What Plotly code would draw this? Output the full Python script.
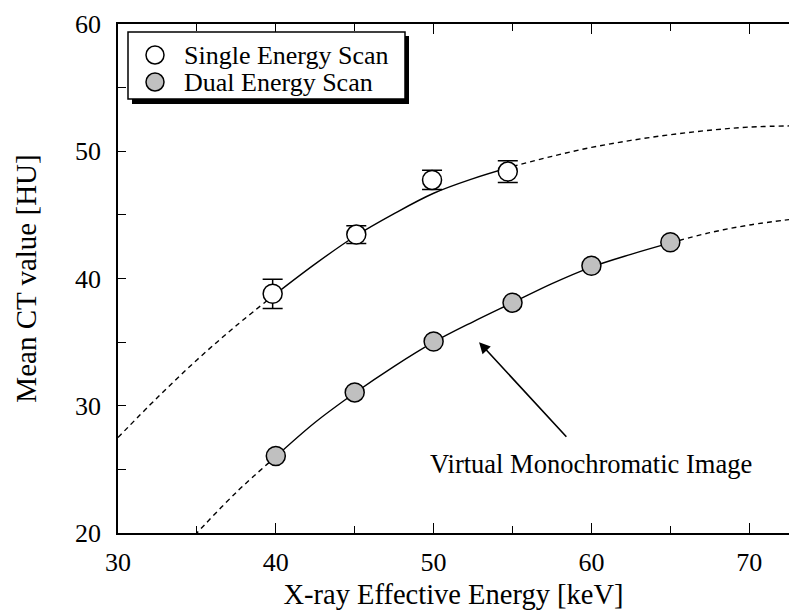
import plotly.graph_objects as go

# ---- data ----
se_x = [39.8, 45.1, 49.9, 54.7]
se_y = [38.8, 43.45, 47.75, 48.4]
se_err = [1.15, 0.7, 0.75, 0.85]

de_x = [40, 45, 50, 55, 60, 65]
de_y = [26.05, 31.05, 35.05, 38.1, 41.0, 42.85]

se_fit_x = [30, 32.5, 35, 37.5, 40, 42.5, 45, 47.5, 50, 52.5, 55, 57.5, 60, 62.5, 65, 67.5, 70, 73]
se_fit_y = [27.5, 30.65, 33.6, 36.3, 38.8, 41.15, 43.3, 45.1, 46.7, 47.85, 48.8, 49.6, 50.3, 50.85, 51.3, 51.65, 51.9, 52.0]

de_fit_x = [34.5, 35, 37.5, 40, 42.5, 45, 47.5, 50, 52.5, 55, 57.5, 60, 62.5, 65, 67.5, 70, 73]
de_fit_y = [19.3, 20.0, 23.2, 26.0, 28.7, 31.0, 33.1, 35.0, 36.6, 38.1, 39.6, 40.9, 41.9, 42.8, 43.6, 44.2, 44.7]

se_solid = (40, 55)
de_solid = (40, 65)

legend_labels = ["Single Energy Scan", "Dual Energy Scan"]
x_title = "X-ray Effective Energy [keV]"
y_title = "Mean CT value [HU]"
note_text = "Virtual Monochromatic Image"

FONT = "Liberation Serif"
GRAY = "#c0c0c0"

fig = go.Figure()


def segs(xs, ys, lo, hi):
    inner = [(x, y) for x, y in zip(xs, ys) if lo <= x <= hi]
    left = [(x, y) for x, y in zip(xs, ys) if x <= lo]
    right = [(x, y) for x, y in zip(xs, ys) if x >= hi]
    return inner, left, right


for fx, fy, rng in [(se_fit_x, se_fit_y, se_solid), (de_fit_x, de_fit_y, de_solid)]:
    inner, left, right = segs(fx, fy, *rng)
    for pts, dash in [(inner, "solid"), (left, "5px,4px"), (right, "5px,4px")]:
        fig.add_trace(go.Scatter(
            x=[p[0] for p in pts], y=[p[1] for p in pts], mode="lines",
            line=dict(color="black", width=1.4, dash=dash, shape="spline", smoothing=1.0),
            showlegend=False, hoverinfo="skip"))

fig.add_trace(go.Scatter(
    x=se_x, y=se_y, mode="markers", name=legend_labels[0], showlegend=False,
    error_y=dict(type="data", array=se_err, visible=True, color="black", thickness=1.5, width=10),
    marker=dict(symbol="circle", size=19, color="white", line=dict(color="black", width=1.5))))

fig.add_trace(go.Scatter(
    x=de_x, y=de_y, mode="markers", name=legend_labels[1], showlegend=False,
    marker=dict(symbol="circle", size=19, color=GRAY, line=dict(color="black", width=1.5))))

# ---- layout geometry (pixels) ----
W, H = 789, 611
L, T, B = 118, 24, 78
PW, PH = W - L, H - T - B


def px(xp):
    return (xp - L) / PW


def py(yp):
    return (H - B - yp) / PH


shapes = []
# legend shadow and box
shapes.append(dict(type="rect", xref="paper", yref="paper", x0=px(132), x1=px(409), y0=py(104), y1=py(36),
                   fillcolor="black", line=dict(width=0), layer="above"))
shapes.append(dict(type="rect", xref="paper", yref="paper", x0=px(128), x1=px(405), y0=py(99), y1=py(32),
                   fillcolor="white", line=dict(color="black", width=1.5), layer="above"))
for yc, fc in [(55, "white"), (82, GRAY)]:
    shapes.append(dict(type="circle", xref="paper", yref="paper", xsizemode="pixel", ysizemode="pixel",
                       xanchor=px(155), yanchor=py(yc), x0=-9, x1=9, y0=-9, y1=9,
                       fillcolor=fc, line=dict(color="black", width=1.5), layer="above"))

annotations = []
for yc, lab in [(55, legend_labels[0]), (82, legend_labels[1])]:
    annotations.append(dict(xref="paper", yref="paper", x=px(182), y=py(yc), text=lab, showarrow=False,
                            xanchor="left", yanchor="middle", font=dict(family=FONT, size=26, color="black")))

annotations.append(dict(x=52.88, y=35.0, ax=58.5, ay=27.44, xref="x", yref="y", axref="x", ayref="y",
                        text="", showarrow=True, arrowhead=2, arrowsize=1.4, arrowwidth=1.6, arrowcolor="black"))
annotations.append(dict(x=59.97, y=25.4, xref="x", yref="y", text=note_text, showarrow=False,
                        xanchor="center", yanchor="middle", font=dict(family=FONT, size=26.5, color="black")))

axis_common = dict(
    showline=True, linecolor="black", linewidth=1.7, showgrid=False, zeroline=False,
    ticks="inside", tickcolor="black", tickwidth=1.3,
    tickfont=dict(family=FONT, size=26, color="black"),
)

fig.update_layout(
    width=W, height=H,
    margin=dict(l=L, r=0, t=T, b=B, pad=0),
    paper_bgcolor="white", plot_bgcolor="white",
    shapes=shapes, annotations=annotations,
    xaxis=dict(axis_common, range=[30, 72.52], tick0=30, dtick=10, ticklen=10, mirror="ticks",
               minor=dict(dtick=5, ticklen=7, ticks="inside", tickcolor="black", tickwidth=1.3),
               title=dict(text=x_title, font=dict(family=FONT, size=28.5, color="black"), standoff=8),
               ticklabelstandoff=5),
    yaxis=dict(axis_common, range=[20, 60], tick0=20, dtick=10, ticklen=8, mirror=False,
               minor=dict(dtick=5, ticklen=8, ticks="inside", tickcolor="black", tickwidth=1.3),
               title=dict(text=y_title, font=dict(family=FONT, size=29, color="black"), standoff=30),
               ticklabelstandoff=10),
)

fig.write_html("out.html")
